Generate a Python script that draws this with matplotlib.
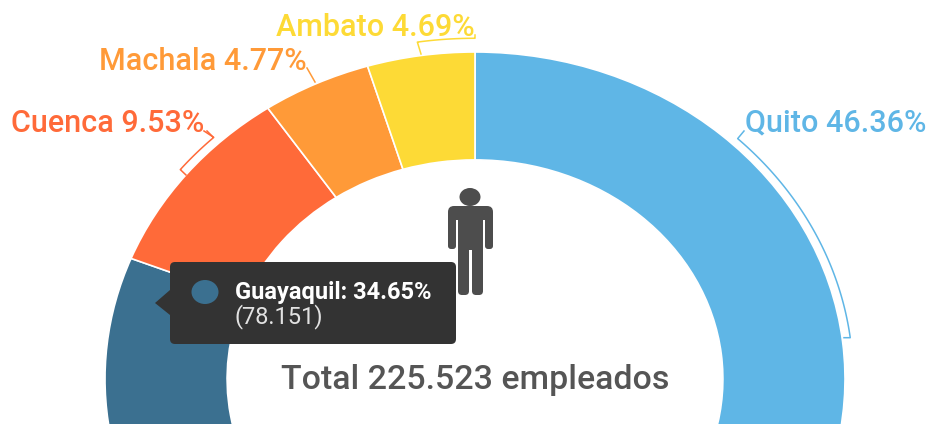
import numpy as np
import matplotlib.pyplot as plt
from matplotlib.patches import Ellipse, FancyBboxPatch, Polygon, Rectangle

ciudades = ["Quito", "Guayaquil", "Cuenca", "Machala", "Ambato"]
porcentajes = [46.36, 34.65, 9.53, 4.77, 4.69]
colores = ["#5fb6e6", "#3b7090", "#ff6a39", "#ff9a38", "#fdda36"]
total_texto = "Total 225.523 empleados"
guayaquil_valor = "(78.151)"

W, H = 929, 424
plt.rcParams["font.family"] = ["Roboto", "DejaVu Sans"]

fig = plt.figure(figsize=(W / 100, H / 100), dpi=100, facecolor="white")

# the picture is stretched sideways, so the pie fills a non square axes
cx, cy, rx, ry = 475, 379, 370, 327
ax_pie = fig.add_axes([(cx - rx) / W, 1 - (cy + ry) / H, 2 * rx / W, 2 * ry / H])
ax_pie.pie(porcentajes, colors=colores, startangle=90, counterclock=False, radius=1,
           wedgeprops={"width": 0.33, "edgecolor": "white", "linewidth": 1.2})
ax_pie.set_aspect("auto")
ax_pie.set_xlim(-1, 1)
ax_pie.set_ylim(-1, 1)

# overlay in pixel coordinates
ax = fig.add_axes([0, 0, 1, 1], facecolor="none")
ax.set_xlim(0, W)
ax.set_ylim(H, 0)
ax.axis("off")


def arco(a1, a2, r):
    # angles in degrees clockwise from the top of the ring
    t = np.radians(np.linspace(a1, a2, 60))
    return cx + rx * r * np.sin(t), cy - ry * r * np.cos(t)


# etiquetas
ax.text(745, 123, f"Quito {porcentajes[0]}%", color=colores[0], fontsize=22, fontweight="medium", va="center", ha="left")
ax.text(11, 123, f"Cuenca {porcentajes[2]}%", color=colores[2], fontsize=22, fontweight="medium", va="center", ha="left")
ax.text(99, 62, f"Machala {porcentajes[3]}%", color=colores[3], fontsize=22, fontweight="medium", va="center", ha="left")
ax.text(276, 28, f"Ambato {porcentajes[4]}%", color=colores[4], fontsize=22, fontweight="medium", va="center", ha="left")

# guias
x, y = arco(44, 82.9, 1.022)
ax.plot(np.r_[744, x, 844], np.r_[131, y, y[-1]], color=colores[0], lw=1.1)
x, y = arco(-43.7, -51.2, 1.022)
ax.plot(np.r_[204, x, 186], np.r_[131, y, 175], color=colores[2], lw=1.1)
ax.plot([213, 207], [137, 131], color=colores[2], lw=1.1)
ax.plot([307, 315], [68, 82], color=colores[3], lw=1.1)
x, y = arco(-8.6, 0, 1.042)
ax.plot(np.r_[421, x, 475], np.r_[54, y, 35], color=colores[4], lw=1.1)

# persona
gris = "#4d4d4d"
ax.add_patch(Ellipse((470, 197), 21, 18, color=gris, lw=0))
ax.add_patch(FancyBboxPatch((448, 206), 45, 14, boxstyle="round,pad=0,rounding_size=6", color=gris, lw=0))
ax.add_patch(FancyBboxPatch((448, 212), 8, 37, boxstyle="round,pad=0,rounding_size=3", color=gris, lw=0))
ax.add_patch(FancyBboxPatch((485, 212), 8, 37, boxstyle="round,pad=0,rounding_size=3", color=gris, lw=0))
ax.add_patch(Rectangle((458, 212), 25, 38, color=gris, lw=0))
ax.add_patch(FancyBboxPatch((458, 245), 11, 50, boxstyle="round,pad=0,rounding_size=4", color=gris, lw=0))
ax.add_patch(FancyBboxPatch((472, 245), 11, 50, boxstyle="round,pad=0,rounding_size=4", color=gris, lw=0))

# tooltip
oscuro = "#333333"
ax.add_patch(FancyBboxPatch((170, 262), 286, 82, boxstyle="round,pad=0,rounding_size=5", color=oscuro, lw=0, zorder=5))
ax.add_patch(Polygon([[155, 303], [170, 290], [170, 315]], color=oscuro, lw=0, zorder=5))
ax.add_patch(Ellipse((205, 292), 27, 24, color=colores[1], lw=0, zorder=6))
ax.text(235, 292, f"{ciudades[1]}: {porcentajes[1]}%", color="white", fontsize=17, fontweight="bold", va="center", ha="left", zorder=6)
ax.text(235, 317, guayaquil_valor, color="#e2e2e2", fontsize=17, va="center", ha="left", zorder=6)

ax.text(475, 380, total_texto, color="#555555", fontsize=24.4, fontweight="medium", va="center", ha="center")

fig.savefig("out.png", dpi=100)
